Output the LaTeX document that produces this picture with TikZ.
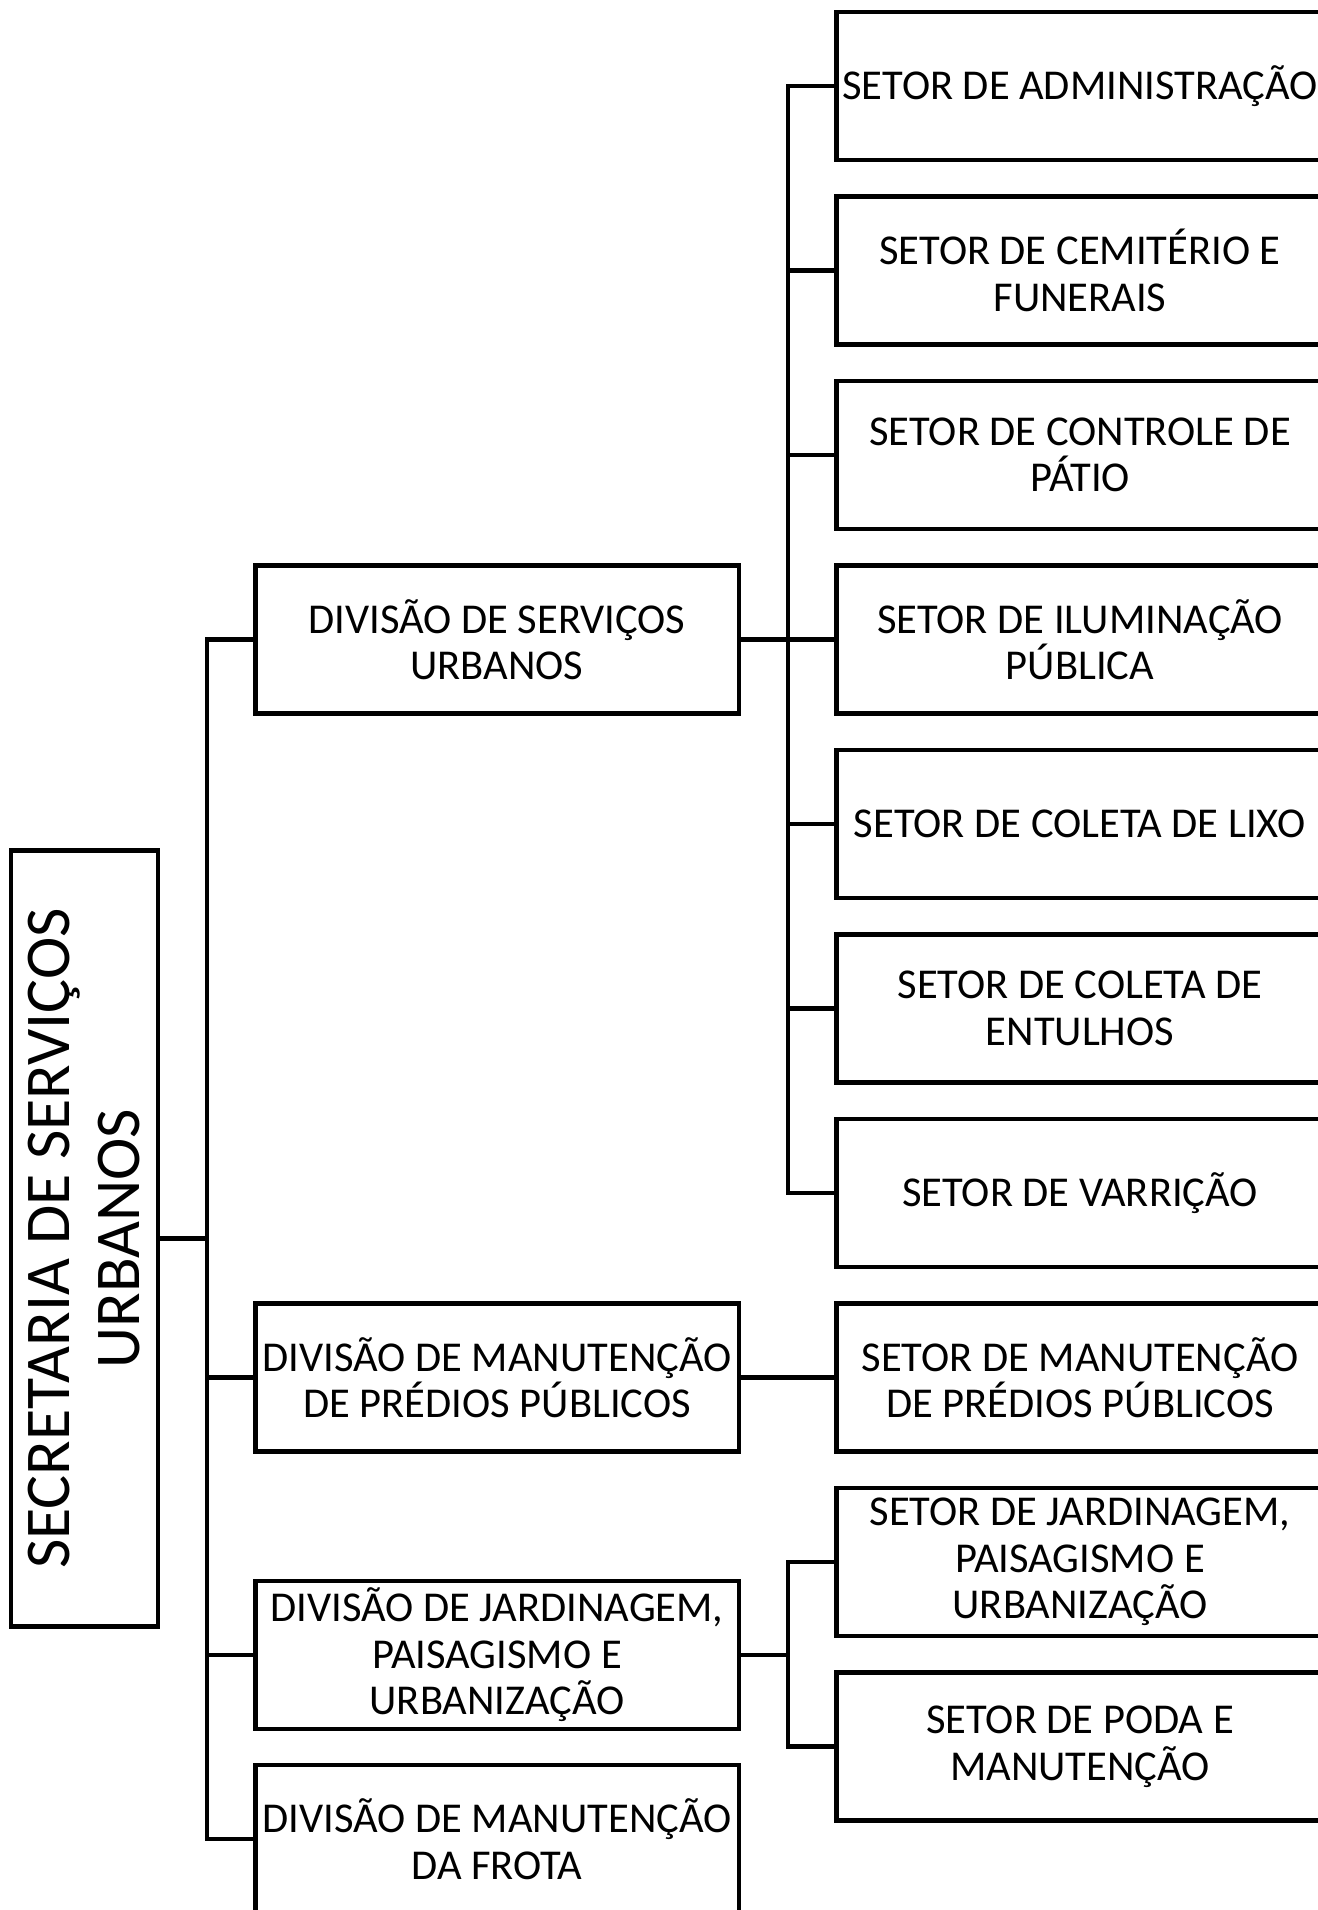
\documentclass[tikz,border=0pt]{standalone}
\usepackage{fontspec}
\setmainfont{Carlito}
\usetikzlibrary{calc,positioning}

\begin{document}
\begin{tikzpicture}[x=0.02cm,y=-0.02cm]

  % Parameters
  \def\wrect{9.68cm}
  \def\hrect{2.96cm}
  \def\xdiv{497}
  \def\xset{1080}
  \def\dy{184.5}

  % Styles
  \tikzstyle{org}=[draw,line width=2.8pt,align=center,text centered,minimum width=\wrect,minimum height=\hrect,inner sep=2pt,font=\fontsize{24.2}{26.5}\selectfont]
  \tikzstyle{setor}=[org,minimum width=9.76cm]
  \tikzstyle{head}=[org,rotate=90,minimum width=15.54cm,minimum height=2.94cm,font=\fontsize{36.3}{39.8}\selectfont]
  \tikzstyle{link}=[line width=2.6pt]

  \useasboundingbox (0,0) rectangle (1318,1910);
  \clip (0,0) rectangle (1318,1910);

  % Secretaria
  \node[head] (secretaria) at (84.5,1238.5) {SECRETARIA DE SERVIÇOS\\URBANOS};

  % Divisoes
  \node[org] (div-1) at (\xdiv,639.5) {DIVISÃO DE SERVIÇOS\\URBANOS};
  \node[org] (div-2) at (\xdiv,1377.5) {DIVISÃO DE MANUTENÇÃO\\DE PRÉDIOS PÚBLICOS};
  \node[org] (div-3) at (\xdiv,1655) {DIVISÃO DE JARDINAGEM,\\PAISAGISMO E\\URBANIZAÇÃO};
  \node[org] (div-4) at (\xdiv,1839) {DIVISÃO DE MANUTENÇÃO\\DA FROTA};

  % Setores
  \foreach \i/\txt in {1/{SETOR DE ADMINISTRAÇÃO},
                       2/{SETOR DE CEMITÉRIO E\\FUNERAIS},
                       3/{SETOR DE CONTROLE DE\\PÁTIO},
                       4/{SETOR DE ILUMINAÇÃO\\PÚBLICA},
                       5/{SETOR DE COLETA DE LIXO},
                       6/{SETOR DE COLETA DE\\ENTULHOS},
                       7/{SETOR DE VARRIÇÃO},
                       8/{SETOR DE MANUTENÇÃO\\DE PRÉDIOS PÚBLICOS},
                       9/{SETOR DE JARDINAGEM,\\PAISAGISMO E\\URBANIZAÇÃO},
                       10/{SETOR DE PODA E\\MANUTENÇÃO}}
    \node[setor] (setor-\i) at (\xset,{86+(\i-1)*\dy}) {\txt};

  % ===========================================================================

  % Trunks
  \coordinate (trunk) at (207,0);
  \coordinate (branch) at (788,0);

  % Secretaria -> divisoes
  \draw[link] (secretaria.south) -- (secretaria.south -| trunk);
  \draw[link] (div-1.west) -| (trunk |- div-4.west) -- (div-4.west);
  \foreach \i in {2,3}
    \draw[link] (div-\i.west) -- (div-\i.west -| trunk);

  % Divisao de servicos urbanos -> setores
  \draw[link] (div-1.east) -- (setor-4.west);
  \draw[link] (setor-1.west) -| (branch |- setor-7.west) -- (setor-7.west);
  \foreach \i in {2,3,5,6}
    \draw[link] (setor-\i.west) -- (setor-\i.west -| branch);

  % Divisao de manutencao -> setor
  \draw[link] (div-2.east) -- (setor-8.west);

  % Divisao de jardinagem -> setores
  \draw[link] (div-3.east) -- (div-3.east -| branch);
  \draw[link] (setor-9.west) -| (branch |- setor-10.west) -- (setor-10.west);

\end{tikzpicture}
\end{document}
